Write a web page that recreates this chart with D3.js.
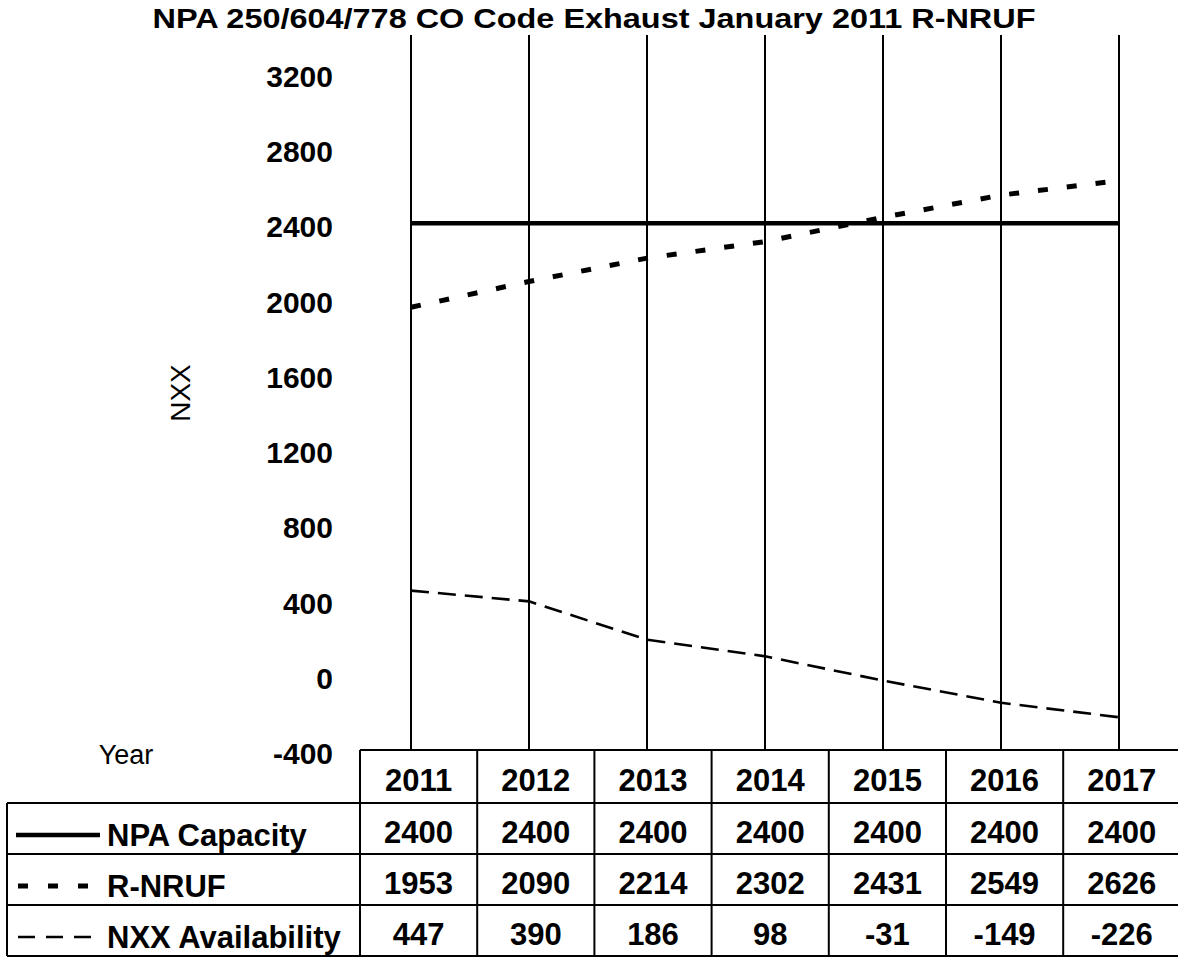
<!DOCTYPE html>
<html>
<head>
<meta charset="utf-8">
<script src="https://cdn.jsdelivr.net/npm/d3@7"></script>
<style>
  body { margin: 0; background: #fff; }
  svg { display: block; font-family: "Liberation Sans", Arial, sans-serif; }
</style>
</head>
<body>
<svg id="chart" width="1178" height="958"></svg>
<script>
// --- données ---
const years = [2011, 2012, 2013, 2014, 2015, 2016, 2017];
const npaCapacity = [2400, 2400, 2400, 2400, 2400, 2400, 2400];
const rNruf = [1953, 2090, 2214, 2302, 2431, 2549, 2626];
const nxxAvailability = [447, 390, 186, 98, -31, -149, -226];
const yTicks = [-400, 0, 400, 800, 1200, 1600, 2000, 2400, 2800, 3200];
const seriesNames = ["NPA Capacity", "R-NRUF", "NXX Availability"];

const series = [
  { name: seriesNames[0], values: npaCapacity, width: 4.5, dash: null, legendDash: null, legendW: 4.5 },
  { name: seriesNames[1], values: rNruf, width: 5, dash: "10,19", legendDash: "10,20", legendW: 5 },
  { name: seriesNames[2], values: nxxAvailability, width: 2.6, dash: "18,9", legendDash: "17,11", legendW: 2.6 }
];

const svg = d3.select("#chart");

// zone de tracé
const plotTop = 35, plotBottom = 750;
const x = d3.scalePoint().domain(years).range([411, 1119]);
const y = d3.scaleLinear().domain([-400, 3400]).range([plotBottom, plotTop]);

// --- titre ---
svg.append("text")
  .attr("x", 594).attr("y", 28)
  .attr("text-anchor", "middle")
  .attr("font-size", 27).attr("font-weight", "bold")
  .attr("textLength", 883).attr("lengthAdjust", "spacingAndGlyphs")
  .text("NPA 250/604/778 CO Code Exhaust January 2011 R-NRUF");

// --- axe Y (libellés seulement) ---
const yAxis = svg.append("g")
  .attr("transform", "translate(333,4)")
  .call(d3.axisLeft(y).tickValues(yTicks).tickSize(0).tickPadding(0).tickFormat(d => String(d)));
yAxis.select(".domain").remove();
yAxis.selectAll("text")
  .attr("font-size", 30).attr("font-weight", "bold")
  .attr("font-family", "Liberation Sans, Arial, sans-serif")
  .attr("fill", "#000");

// titre axe Y
svg.append("text")
  .attr("transform", "translate(190,393) rotate(-90)")
  .attr("text-anchor", "middle")
  .attr("font-size", 28)
  .text("NXX");

svg.append("text")
  .attr("x", 126).attr("y", 764)
  .attr("text-anchor", "middle")
  .attr("font-size", 27)
  .text("Year");

// --- lignes verticales des catégories ---
svg.append("g")
  .selectAll("line")
  .data(years)
  .join("line")
  .attr("x1", d => x(d)).attr("x2", d => x(d))
  .attr("y1", plotTop).attr("y2", plotBottom)
  .attr("stroke", "#000").attr("stroke-width", 2);

// --- séries ---
const line = d3.line()
  .x((d, i) => x(years[i]))
  .y(d => y(d));

svg.append("g")
  .attr("fill", "none")
  .selectAll("path")
  .data(series)
  .join("path")
  .attr("d", d => line(d.values))
  .attr("stroke", "#000")
  .attr("stroke-width", d => d.width)
  .attr("stroke-dasharray", d => d.dash);

// --- tableau de données ---
const colW = 117.2;
const tableX = d3.scaleBand().domain(years).range([360, 360 + colW * years.length]);
const headerTop = 750, headerBottom = 803;
const rowH = 51;
const rowY = d3.scaleBand().domain(seriesNames).range([headerBottom, headerBottom + rowH * 3]);
const tableLeft = 7;

const grid = svg.append("g").attr("stroke", "#000").attr("stroke-width", 2);
// en-tête
grid.append("line").attr("x1", 360).attr("x2", 1180).attr("y1", headerTop).attr("y2", headerTop);
grid.selectAll(".col")
  .data(years)
  .join("line")
  .attr("x1", d => tableX(d)).attr("x2", d => tableX(d))
  .attr("y1", headerTop).attr("y2", rowY.range()[1]);
// lignes horizontales des rangées
grid.selectAll(".row")
  .data([headerBottom, ...seriesNames.map(n => rowY(n) + rowY.bandwidth())])
  .join("line")
  .attr("x1", tableLeft).attr("x2", 1180)
  .attr("y1", d => d).attr("y2", d => d);
grid.append("line").attr("x1", tableLeft).attr("x2", tableLeft)
  .attr("y1", headerBottom).attr("y2", rowY.range()[1]);

// années
svg.append("g")
  .selectAll("text")
  .data(years)
  .join("text")
  .attr("x", d => tableX(d) + tableX.bandwidth() / 2)
  .attr("y", 791)
  .attr("text-anchor", "middle")
  .attr("font-size", 31).attr("font-weight", "bold")
  .text(d => d);

// valeurs
series.forEach(s => {
  svg.append("g")
    .selectAll("text")
    .data(s.values)
    .join("text")
    .attr("x", (d, i) => tableX(years[i]) + tableX.bandwidth() / 2)
    .attr("y", rowY(s.name) + 40)
    .attr("text-anchor", "middle")
    .attr("font-size", 31).attr("font-weight", "bold")
    .text(d => d);

  // légende
  const cy = rowY(s.name) + 32;
  svg.append("line")
    .attr("x1", 16).attr("x2", 100)
    .attr("y1", cy).attr("y2", cy)
    .attr("stroke", "#000")
    .attr("stroke-width", s.legendW)
    .attr("stroke-dasharray", s.legendDash)
    .attr("stroke-dashoffset", s.legendDash ? -2 : 0);

  svg.append("text")
    .attr("x", 107).attr("y", rowY(s.name) + 43)
    .attr("font-size", 31).attr("font-weight", "bold")
    .text(s.name);
});
</script>
</body>
</html>
